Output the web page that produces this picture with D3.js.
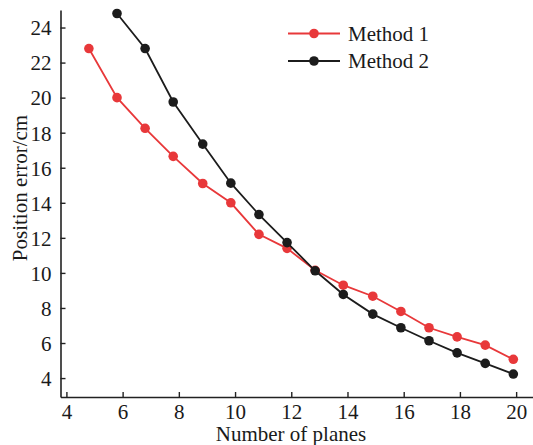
<!DOCTYPE html>
<html>
<head>
<meta charset="utf-8">
<script src="https://cdn.jsdelivr.net/npm/d3@7"></script>
<style>
  body { margin: 0; background: #fff; }
  svg text { font-family: "Liberation Serif", "Times New Roman", serif; fill: #1a1a1a; }
</style>
</head>
<body>
<div id="chart"></div>
<script>
// values
var planes = [4.8, 5.8, 6.8, 7.8, 8.85, 9.85, 10.85, 11.85, 12.85, 13.85, 14.9, 15.9, 16.9, 17.9, 18.9, 19.9];
var method1 = [22.8, 20.0, 18.25, 16.65, 15.1, 14.0, 12.2, 11.4, 10.15, 9.3, 8.67, 7.8, 6.87, 6.35, 5.88, 5.07];
var method2 = [null, 24.8, 22.8, 19.75, 17.35, 15.12, 13.33, 11.73, 10.12, 8.77, 7.65, 6.87, 6.13, 5.44, 4.84, 4.23];
var xTicks = [4, 6, 8, 10, 12, 14, 16, 18, 20];
var yTicks = [4, 6, 8, 10, 12, 14, 16, 18, 20, 22, 24];
var seriesNames = ["Method 1", "Method 2"];
var seriesColors = ["#e8383a", "#1c1c1c"];

var W = 533, H = 445;
var svg = d3.select("#chart").append("svg").attr("width", W).attr("height", H);

var x = d3.scaleLinear().domain([3.79, 20.6]).range([60.5, 533]);
var y = d3.scaleLinear().domain([2.92, 25]).range([397, 10]);

// axes, ticks point inward
var gx = svg.append("g").attr("transform", "translate(0,397)")
  .call(d3.axisBottom(x).tickValues(xTicks).tickSizeInner(-5).tickSizeOuter(0));
var gy = svg.append("g").attr("transform", "translate(60.5,0)")
  .call(d3.axisLeft(y).tickValues(yTicks).tickSizeInner(-5).tickSizeOuter(0).tickPadding(9));

[gx, gy].forEach(function (g) {
  g.attr("font-family", "Liberation Serif").attr("font-size", 21);
  g.select(".domain").attr("stroke", "#222").attr("stroke-width", 1.6);
  g.selectAll(".tick line").attr("stroke", "#222").attr("stroke-width", 1.4);
  g.selectAll(".tick text").attr("fill", "#1a1a1a");
});
gx.selectAll(".tick text").attr("dy", null).attr("y", 22);
gy.selectAll(".tick text").attr("dy", "0.35em");

svg.append("text").attr("x", 291).attr("y", 441).attr("text-anchor", "middle")
  .style("font-size", "21px").text("Number of planes");
svg.append("text").attr("transform", "translate(27,188) rotate(-90)").attr("text-anchor", "middle")
  .style("font-size", "21px").text("Position error/cm");

var data = [method1, method2];
var line = d3.line()
  .x(function (d) { return x(d[0]); })
  .y(function (d) { return y(d[1]); });

var plot = svg.append("g");
data.forEach(function (vals, i) {
  var pts = planes.map(function (p, j) { return [p, vals[j]]; }).filter(function (d) { return d[1] != null; });
  plot.append("path").datum(pts).attr("d", line)
    .attr("fill", "none").attr("stroke", seriesColors[i]).attr("stroke-width", 1.8);
  plot.selectAll(".pt" + i).data(pts).enter().append("circle")
    .attr("cx", function (d) { return x(d[0]); })
    .attr("cy", function (d) { return y(d[1]); })
    .attr("r", 4.8).attr("fill", seriesColors[i]);
});

// legend
var lg = svg.append("g");
seriesNames.forEach(function (name, i) {
  var ly = 33.5 + i * 27.5;
  lg.append("line").attr("x1", 288).attr("x2", 340).attr("y1", ly).attr("y2", ly)
    .attr("stroke", seriesColors[i]).attr("stroke-width", 2);
  lg.append("circle").attr("cx", 314).attr("cy", ly).attr("r", 4.8).attr("fill", seriesColors[i]);
  lg.append("text").attr("x", 348).attr("y", ly).attr("dy", "0.35em")
    .style("font-size", "21px").text(name);
});
</script>
</body>
</html>
